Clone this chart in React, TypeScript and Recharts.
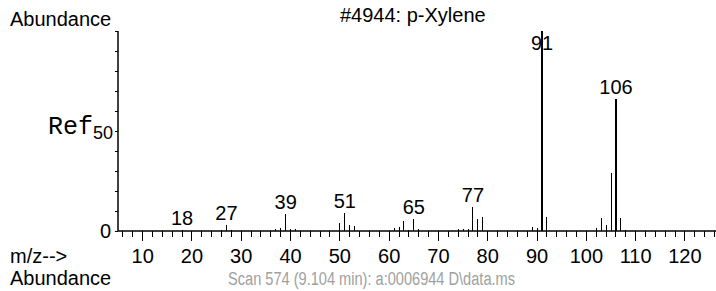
import { ComposedChart, Bar, XAxis, YAxis, LabelList } from 'recharts';

// m/z values and relative abundance (%), p-Xylene reference spectrum
const mzValues = [18, 26, 27, 28, 37, 38, 39, 40, 41, 50, 51, 52, 53, 61, 62, 63, 64, 65, 66, 74, 75, 76, 77, 78, 79, 89, 90, 91, 92, 102, 103, 104, 105, 106, 107, 108];
const abundance = [0.3, 0.6, 3, 0.6, 1, 1.5, 8.5, 1, 1, 4, 9, 3, 2.5, 1.5, 2, 5, 0.6, 6, 0.8, 1, 1, 1, 12, 6, 7, 2, 1.5, 100, 7, 1.5, 6.3, 3, 29, 66, 6.5, 0.6];
const labeledPeaks = [18, 27, 39, 51, 65, 77, 91, 106];

const xTicks = [6, 8, 10, 12, 14, 16, 18, 20, 22, 24, 26, 28, 30, 32, 34, 36, 38, 40, 42, 44, 46, 48, 50, 52, 54, 56, 58, 60, 62, 64, 66, 68, 70, 72, 74, 76, 78, 80, 82, 84, 86, 88, 90, 92, 94, 96, 98, 100, 102, 104, 106, 108, 110, 112, 114, 116, 118, 120, 122, 124, 126];
const yTicks = [0, 10, 20, 30, 40, 50, 60, 70, 80, 90, 100];

const data = mzValues.map((mz, i) => ({
  mz,
  ab: abundance[i],
  label: labeledPeaks.includes(mz) ? String(mz) : '',
}));

const FONT = '"Liberation Sans", Arial, sans-serif';

const XTick = (props: any) => {
  const { x, y, payload } = props;
  const major = payload.value % 10 === 0;
  return (
    <g>
      <line x1={x} x2={x} y1={y} y2={y + (major ? 10 : 6)} stroke="#000" shapeRendering="crispEdges" />
      {major && (
        <text x={x} y={y + 32} textAnchor="middle" fontFamily={FONT} fontSize={20} fill="#000">
          {payload.value}
        </text>
      )}
    </g>
  );
};

const YTick = (props: any) => {
  const { x, y, payload } = props;
  return (
    <g>
      <line x1={x} x2={x - 3} y1={y} y2={y} stroke="#000" shapeRendering="crispEdges" />
      {payload.value === 0 && (
        <text x={x - 7} y={y + 7} textAnchor="end" fontFamily={FONT} fontSize={20} fill="#000">0</text>
      )}
      {payload.value === 50 && (
        <text x={x - 5} y={y + 4} textAnchor="end" fill="#000">
          <tspan fontFamily='"Liberation Mono", "Courier New", monospace' fontSize={25} dy={-1}>Ref</tspan>
          <tspan fontFamily={FONT} fontSize={18} dy={5}>50</tspan>
        </text>
      )}
    </g>
  );
};

const PeakBar = (props: any) => {
  const { x, y, width, height, payload } = props;
  const w = payload.ab > 50 ? 2 : 1;
  return <rect x={Math.round(x + width / 2 - w / 2)} y={y} width={w} height={height} fill="#000" shapeRendering="crispEdges" />;
};

const PeakLabel = (props: any) => {
  const { x, y, width, value } = props;
  if (!value) return null;
  return (
    <text x={x + width / 2} y={Math.max(y - 5, 50)} textAnchor="middle" fontFamily={FONT} fontSize={20} fill="#000">
      {value}
    </text>
  );
};

export default function App() {
  return (
    <div style={{ position: 'absolute', left: 0, top: 0, width: 716, height: 291, background: '#fff' }}>
      <ComposedChart width={716} height={291} data={data} margin={{ top: 31, right: 0, bottom: 0, left: 0 }}>
        <XAxis
          dataKey="mz"
          type="number"
          domain={[5, 126.3]}
          allowDataOverflow
          ticks={xTicks}
          interval={0}
          height={60}
          tickSize={0}
          tickMargin={0}
          tickLine={false}
          axisLine={{ stroke: '#000', strokeWidth: 1.5 }}
          tick={<XTick />}
        />
        <YAxis
          type="number"
          domain={[0, 100]}
          ticks={yTicks}
          interval={0}
          width={118}
          tickSize={0}
          tickMargin={0}
          tickLine={false}
          axisLine={{ stroke: '#000', strokeWidth: 1.5 }}
          tick={<YTick />}
        />
        <Bar dataKey="ab" barSize={1} shape={<PeakBar />} isAnimationActive={false}>
          <LabelList dataKey="label" content={<PeakLabel />} />
        </Bar>
        <text x={10} y={26} fontFamily={FONT} fontSize={20} fill="#000">Abundance</text>
        <text x={340} y={22} fontFamily={FONT} fontSize={20} fill="#000">#4944: p-Xylene</text>
        <text x={10} y={263} fontFamily={FONT} fontSize={20} fill="#000">m/z--&gt;</text>
        <text x={10} y={285} fontFamily={FONT} fontSize={20} fill="#000">Abundance</text>
        <text x={228} y={285} fontFamily={FONT} fontSize={18} fill="#a0a0a0" textLength={287} lengthAdjust="spacingAndGlyphs">
          Scan 574 (9.104 min): a:0006944 D\data.ms
        </text>
      </ComposedChart>
    </div>
  );
}
